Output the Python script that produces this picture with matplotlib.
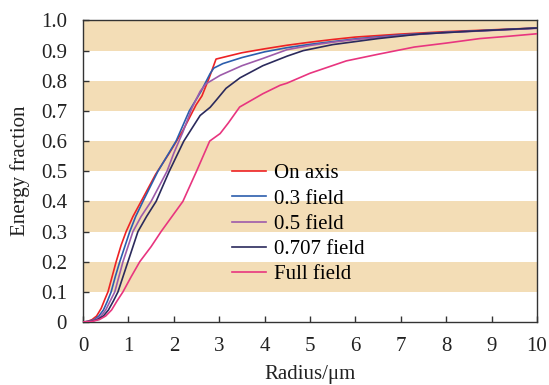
import numpy as np
from matplotlib import pyplot as plt

plt.rcParams['font.family'] = ['Liberation Serif', 'DejaVu Serif']

# encircled energy curves, radius in um
on_axis_r = [0, 0.1, 0.2, 0.3, 0.4, 0.48, 0.55, 0.64, 0.73, 0.84, 0.95, 1.1,
             1.28, 1.6, 1.9, 2.2, 2.49, 2.62, 2.78, 2.93, 3.2, 3.5, 4.0, 4.5,
             5.0, 5.5, 6.0, 7.0, 8.0, 9.0, 10.0]
on_axis_e = [0, 0.002, 0.008, 0.02, 0.045, 0.075, 0.1, 0.15, 0.2, 0.255, 0.3,
             0.35, 0.4, 0.49, 0.56, 0.635, 0.72, 0.75, 0.81, 0.872, 0.882,
             0.893, 0.906, 0.918, 0.928, 0.937, 0.945, 0.955, 0.963, 0.969,
             0.975]

f03_r = [0, 0.12, 0.25, 0.35, 0.45, 0.54, 0.62, 0.71, 0.81, 0.92, 1.03, 1.16,
         1.32, 1.65, 2.05, 2.34, 2.6, 2.8, 2.88, 3.08, 3.5, 4.0, 4.5, 5.0,
         5.5, 6.0, 7.0, 8.0, 9.0, 10.0]
f03_e = [0, 0.002, 0.008, 0.02, 0.04, 0.07, 0.1, 0.15, 0.2, 0.25, 0.3, 0.35,
         0.4, 0.5, 0.6, 0.7, 0.765, 0.824, 0.842, 0.857, 0.877, 0.896, 0.91,
         0.921, 0.93, 0.939, 0.952, 0.961, 0.968, 0.975]

f05_r = [0, 0.15, 0.28, 0.4, 0.5, 0.6, 0.7, 0.79, 0.88, 0.99, 1.1, 1.28, 1.5,
         1.85, 2.0, 2.2, 2.4, 2.58, 2.71, 3.02, 3.5, 3.96, 4.49, 5.0, 5.5,
         6.0, 7.0, 8.0, 9.0, 10.0]
f05_e = [0, 0.002, 0.008, 0.02, 0.04, 0.07, 0.1, 0.15, 0.2, 0.25, 0.3, 0.35,
         0.4, 0.5, 0.56, 0.63, 0.71, 0.765, 0.79, 0.818, 0.85, 0.874, 0.903,
         0.917, 0.928, 0.937, 0.95, 0.96, 0.967, 0.974]

f0707_r = [0, 0.18, 0.32, 0.45, 0.56, 0.67, 0.77, 0.88, 0.99, 1.1, 1.21, 1.4,
           1.61, 1.9, 2.22, 2.58, 2.8, 2.93, 3.15, 3.46, 3.96, 4.5, 4.85, 5.5,
           6.5, 7.42, 8.5, 10.0]
f0707_e = [0, 0.002, 0.008, 0.02, 0.04, 0.07, 0.1, 0.15, 0.2, 0.25, 0.3, 0.35,
           0.4, 0.5, 0.6, 0.685, 0.712, 0.735, 0.775, 0.81, 0.85, 0.882, 0.9,
           0.92, 0.94, 0.955, 0.964, 0.975]

full_r = [0, 0.2, 0.36, 0.5, 0.63, 0.75, 0.88, 1.06, 1.25, 1.5, 1.72, 1.96, 2.2,
          2.5, 2.79, 3.02, 3.2, 3.45, 3.96, 4.34, 4.49, 5.0, 5.8, 6.5, 7.3,
          8.0, 8.74, 9.4, 10.0]
full_e = [0, 0.002, 0.008, 0.02, 0.04, 0.07, 0.1, 0.15, 0.2, 0.25, 0.3, 0.35,
          0.4, 0.5, 0.6, 0.625, 0.66, 0.713, 0.757, 0.785, 0.792, 0.825,
          0.866, 0.888, 0.912, 0.925, 0.94, 0.948, 0.956]

labels = ["On axis", "0.3 field", "0.5 field", "0.707 field", "Full field"]
colors = ["#ED2224", "#2C5EAD", "#9D5BAA", "#2B2A5C", "#E8357F"]

band_starts = [0.1, 0.3, 0.5, 0.7, 0.9]

fig = plt.figure(figsize=(5.49, 3.85), dpi=100)
ax = fig.add_axes([0.1512, 0.1636, 0.827, 0.7832])

for b in band_starts:
    ax.axhspan(b, b + 0.1, color="#F3DDB6", lw=0, zorder=0)

curves = [(on_axis_r, on_axis_e), (f03_r, f03_e), (f05_r, f05_e),
          (f0707_r, f0707_e), (full_r, full_e)]
for (r, e), lab, c in zip(curves, labels, colors):
    ax.plot(r, e, color=c, lw=1.2, label=lab, zorder=3)

ax.set_xlim(0, 10)
ax.set_ylim(0, 1.0)
ax.set_xticks(np.arange(0, 11, 1))
yt = np.arange(0, 1.01, 0.1)
ax.set_yticks(yt)
ax.set_yticklabels(["0"] + ["%.1f" % v for v in yt[1:]])

for s in ax.spines.values():
    s.set_color("#333333")
    s.set_linewidth(1.0)
ax.tick_params(direction="in", length=4, width=1, color="#333333",
               labelsize=15, labelcolor="#222222")
ax.tick_params(axis="x", pad=11)
ax.tick_params(axis="y", pad=11.5)

ax.set_xlabel("Radius/μm", fontsize=15, color="#222222", labelpad=6.5)
ax.set_ylabel("Energy fraction", fontsize=15, color="#222222", labelpad=8)

ax.legend(loc="upper left", bbox_to_anchor=(0.306, 0.559), frameon=False,
          fontsize=15, handlelength=1.6, handletextpad=0.4,
          labelspacing=0.27, borderpad=0)

fig.savefig("out.png", dpi=100)
